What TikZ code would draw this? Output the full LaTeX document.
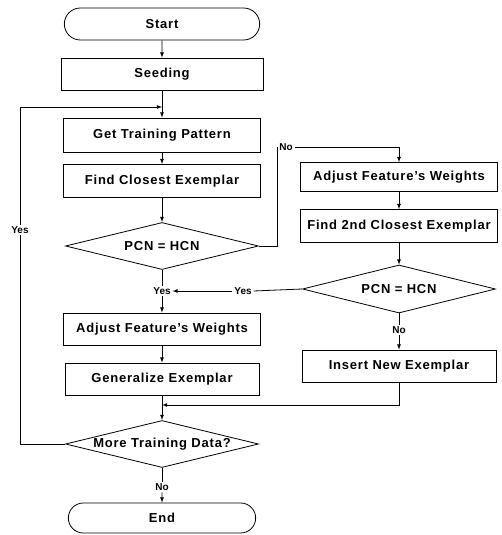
\documentclass[tikz,border=0pt]{standalone}
\usepackage{fontspec}
\setmainfont{Liberation Sans}
\usetikzlibrary{shapes.geometric,shapes.misc}

\begin{document}
\begin{tikzpicture}[x=1pt,y=-1pt,>=latex,line width=0.8pt,
  font=\fontsize{13}{15}\selectfont\bfseries\addfontfeature{LetterSpace=6},
  stepbox/.style={draw,rectangle,minimum width=197pt,minimum height=33pt,inner sep=2pt},
  termbox/.style={draw,rounded rectangle,minimum width=202pt,minimum height=32pt},
  testbox/.style={draw,diamond,aspect=4.1,minimum width=193pt,minimum height=47pt,inner sep=0pt},
  lbl/.style={fill=white,inner sep=1.5pt,font=\fontsize{10}{12}\selectfont\bfseries}]
\useasboundingbox (0,0) rectangle (501,535);
%%
\node (start) at (162,24) [termbox] {Start};
  \node (seed) at (162,74) [stepbox,minimum width=202pt,minimum height=32pt] {Seeding};
  \coordinate (j1) at (162,107);
  \node (getp) at (162,135) [stepbox,minimum height=34pt] {Get Training Pattern};
  \node (findc) at (162,181) [stepbox] {Find Closest Exemplar};
  \node (d1) at (162,246) [testbox] {\makebox[0pt]{PCN = HCN}};
  \node (yesL) at (162,291) [lbl] {Yes};
  \node (adjL) at (162,329) [stepbox,minimum height=32pt] {Adjust Feature's Weights};
  \node (gen) at (162,379) [stepbox,minimum width=194pt,minimum height=32pt] {Generalize Exemplar};
  \coordinate (j2) at (162,405);
  \node (d3) at (162,444) [testbox] {\makebox[0pt]{More Training Data?}};
  \node (noB) at (162,487) [lbl] {No};
  \node (end) at (162,518) [termbox,minimum width=194pt,minimum height=30pt] {End};
  \node (noT) at (286,147) [lbl] {No};
  \node (adjR) at (399,177) [stepbox,minimum height=29pt] {Adjust Feature's Weights};
  \node (find2) at (399,226) [stepbox] {\makebox[0pt]{Find 2nd Closest Exemplar}};
  \node (d2) at (399,289) [testbox,minimum height=48pt] {\makebox[0pt]{PCN = HCN}};
  \node (yesR) at (243,291) [lbl] {Yes};
  \node (noR) at (399,330) [lbl] {No};
  \node (ins) at (399,366) [stepbox,minimum width=194pt,minimum height=32pt] {Insert New Exemplar};
  \node (yesLoop) at (20,230) [lbl] {Yes};
%
  \draw [black,->] (start) -- (seed);
  \draw [black] (seed) -- (j1);
  \draw [black,->] (j1) -- (getp);
  \draw [black,->] (getp) -- (findc);
  \draw [black,->] (findc) -- (d1);
  \draw [black] (d1.south) -- (yesL);
  \draw [black,->] (yesL) -- (adjL);
  \draw [black,->] (adjL) -- (gen);
  \draw [black] (gen) -- (j2);
  \draw [black,->] (j2) -- (d3.north);
  \draw [black] (d3.south) -- (noB);
  \draw [black,->] (noB) -- (end);
  \draw [black] (d1.east) -| (noT.west);
  \draw [black,->] (noT.east) -| (adjR.north);
  \draw [black,->] (adjR) -- (find2);
  \draw [black,->] (find2) -- (d2.north);
  \draw [black] (d2.west) -- (yesR.east);
  \draw [black,->] (yesR.west) -- (yesL.east);
  \draw [black] (d2.south) -- (noR);
  \draw [black,->] (noR) -- (ins);
  \draw [black,->] (ins.south) |- (j2);
  \draw [black] (d3.west) -| (yesLoop.south);
  \draw [black,->] (yesLoop.north) |- (j1);
%
\end{tikzpicture}
\end{document}
